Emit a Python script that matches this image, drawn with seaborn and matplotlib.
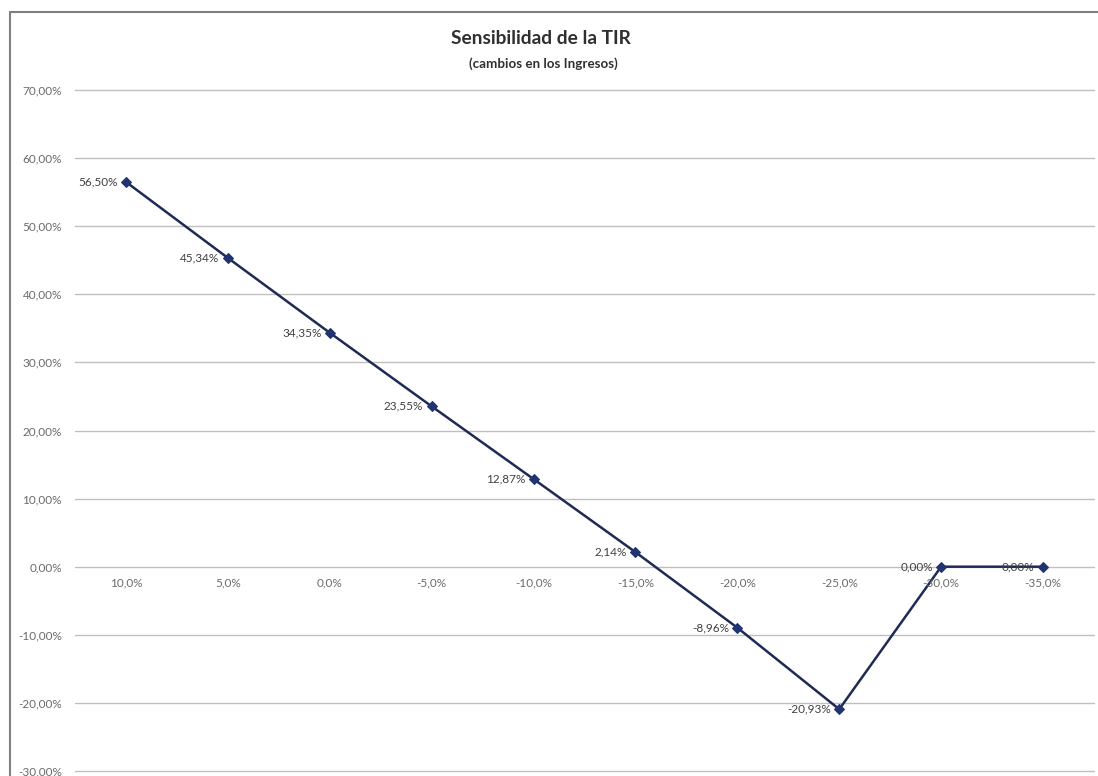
import matplotlib
matplotlib.use("Agg")
import matplotlib.pyplot as plt
import seaborn as sns
import pandas as pd
from matplotlib.lines import Line2D

# Variación de ingresos (categorías) y TIR resultante
categorias = ["10,0%", "5,0%", "0,0%", "-5,0%", "-10,0%", "-15,0%",
              "-20,0%", "-25,0%", "-30,0%", "-35,0%"]
tir = [56.50, 45.34, 34.35, 23.55, 12.87, 2.14, -8.96, -20.93, 0.00, 0.00]
y_ticks = [70, 60, 50, 40, 30, 20, 10, 0, -10, -20, -30]

sns.set_theme(style="white")
plt.rcParams["font.family"] = ["Lato", "DejaVu Sans"]

df = pd.DataFrame({"pos": range(len(categorias)), "tir": tir})

fig = plt.figure(figsize=(10.98, 7.76), dpi=100)
ax = fig.add_axes([75 / 1098, 5 / 776, (1094 - 75) / 1098, (771 - 90) / 776])

line_color = "#1F2A55"
sns.lineplot(data=df, x="pos", y="tir", ax=ax, color=line_color, linewidth=1.8,
             marker="D", markersize=5.5, markeredgecolor="#1F3470",
             markerfacecolor="#1F3470", zorder=3)

ax.set_xlim(-0.5, len(categorias) - 0.5)
ax.set_ylim(-30, 70)

# gridlines
for v in y_ticks:
    ax.axhline(v, color="#BFBFBF", linewidth=1.0, zorder=1, clip_on=False)

for s in ax.spines.values():
    s.set_visible(False)

ax.set_yticks(y_ticks)
ax.set_yticklabels([f"{v:.2f}".replace(".", ",") + "%" for v in y_ticks],
                   fontsize=8.5, color="#6B6B6B")
ax.tick_params(axis="y", length=0, pad=9.5)
ax.set_xticks([])
ax.set_xlabel("")
ax.set_ylabel("")

# category labels sit just under the zero line
for i, lab in enumerate(categorias):
    ax.annotate(lab, (i, 0), xytext=(0, -12), textcoords="offset points",
                ha="center", va="center", fontsize=8.5, color="#6B6B6B")

# data labels to the left of each marker
for i, v in enumerate(tir):
    ax.annotate(f"{v:.2f}".replace(".", ",") + "%", (i, v), xytext=(-6, 0),
                textcoords="offset points", ha="right", va="center",
                fontsize=8.5, color="#404040", zorder=4)

# titles
fig.text(541 / 1098, 1 - 38 / 776, "Sensibilidad de la TIR", ha="center",
         va="center", fontsize=13.8, fontweight="bold", color="#303030")
fig.text(543 / 1098, 1 - 64 / 776, "(cambios en los Ingresos)", ha="center",
         va="center", fontsize=9.6, fontweight="bold", color="#303030")

# outer chart frame
fig.add_artist(Line2D([10 / 1098, 10 / 1098], [0, 1 - 12 / 776],
                      transform=fig.transFigure, color="#7F7F7F", linewidth=1.5))
fig.add_artist(Line2D([10 / 1098, 1], [1 - 12 / 776, 1 - 12 / 776],
                      transform=fig.transFigure, color="#7F7F7F", linewidth=1.5))

fig.savefig("out.png", dpi=100, facecolor="white")
